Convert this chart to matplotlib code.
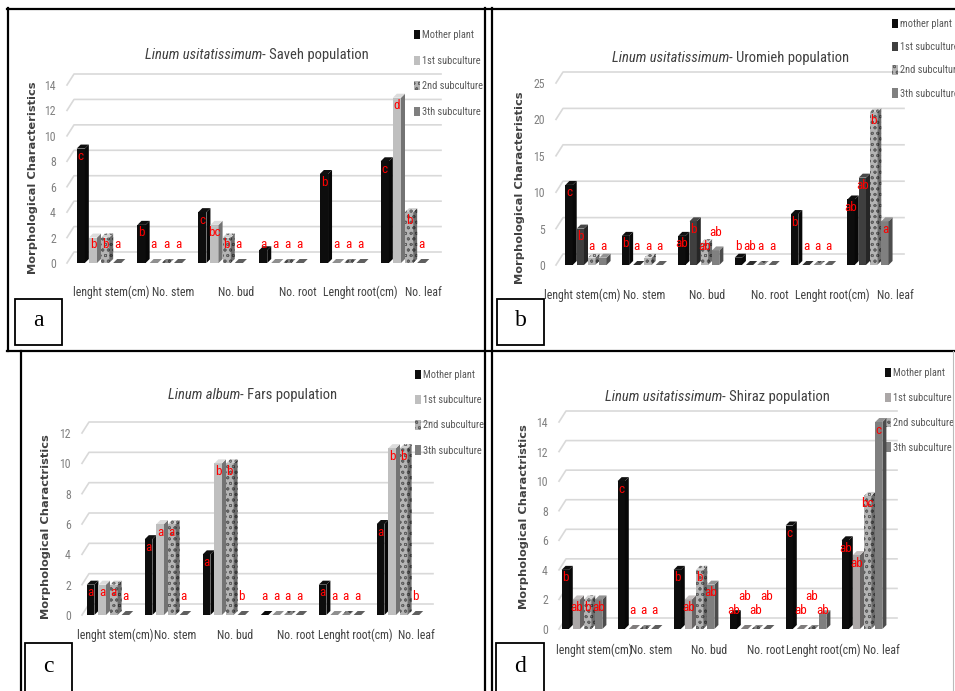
import matplotlib
matplotlib.use("Agg")
import matplotlib.pyplot as plt
from matplotlib import font_manager
from matplotlib.patches import Polygon, Patch, Rectangle
from matplotlib.lines import Line2D
import numpy as np

W, H = 955, 691

categories = ["lenght stem(cm)", "No. stem", "No. bud", "No. root", "Lenght root(cm)", "No. leaf"]
legend_names = ["Mother plant", "1st subculture", "2nd subculture", "3th subculture"]
legend_names_b = ["mother plant", "1st subculture", "2nd subculture", "3th subculture"]

# a - Saveh
saveh_mother = [9, 3, 4, 1, 7, 8]
saveh_sub1 = [2, 0, 3, 0, 0, 13]
saveh_sub2 = [2, 0, 2, 0, 0, 4]
saveh_sub3 = [0, 0, 0, 0, 0, 0]
saveh_letters = [["c", "b", "b", "a"], ["b", "a", "a", "a"], ["c", "bc", "b", "a"],
                 ["a", "a", "a", "a"], ["b", "a", "a", "a"], ["c", "d", "b", "a"]]

# b - Uromieh
uromieh_mother = [11, 4, 4, 1, 7, 9]
uromieh_sub1 = [5, 0, 6, 0, 0, 12]
uromieh_sub2 = [1, 1, 3, 0, 0, 21]
uromieh_sub3 = [1, 0, 2, 0, 0, 6]
uromieh_letters = [["c", "b", "a", "a"], ["b", "a", "a", "a"], ["ab", "b", "ab", "ab"],
                   ["b", "ab", "a", "a"], ["b", "a", "a", "a"], ["ab", "ab", "b", "a"]]

# c - Fars (Linum album)
fars_mother = [2, 5, 4, 0, 2, 6]
fars_sub1 = [2, 6, 10, 0, 0, 11]
fars_sub2 = [2, 6, 10, 0, 0, 11]
fars_sub3 = [0, 0, 0, 0, 0, 0]
fars_letters = [["a", "a", "a", "a"], ["a", "a", "a", "a"], ["a", "b", "b", "b"],
                ["a", "a", "a", "a"], ["a", "a", "a", "a"], ["a", "b", "b", "b"]]

# d - Shiraz
shiraz_mother = [4, 10, 4, 1, 7, 6]
shiraz_sub1 = [2, 0, 2, 0, 0, 5]
shiraz_sub2 = [2, 0, 4, 0, 0, 9]
shiraz_sub3 = [2, 0, 3, 0, 1, 14]
shiraz_letters = [["b", "ab", "b", "ab"], ["c", "a", "a", "a"], ["b", "ab", "b", "ab"],
                  ["ab", "ab", "ab", "ab"], ["c", "ab", "ab", "ab"], ["ab", "ab", "bc", "c"]]

names = {f.name for f in font_manager.fontManager.ttflist}


def pick(cands):
    for c in cands:
        if c in names:
            return c
    return "DejaVu Sans"


NARROW = pick(["Liberation Sans Narrow", "Roboto Condensed", "Open Sans Condensed", "Lato", "Roboto"])
SERIF = "Liberation Serif"

plt.rcParams["hatch.linewidth"] = 0.6

SPECKLE = "speckle"
colors_a = ["#0d0d0d", "#bfbfbf", SPECKLE, "#7f7f7f"]
colors_b = ["#0d0d0d", "#3f3f3f", SPECKLE, "#808080"]
colors_d = ["#0d0d0d", "#aba7a7", SPECKLE, "#7f7f7f"]


def fx(x):
    return x / W


def fy(y):
    return 1 - y / H


def shade(c, k):
    rgb = np.array(matplotlib.colors.to_rgb(c))
    return tuple(np.clip(rgb * k, 0, 1))


def face_kw(col, k=1.0):
    if col == SPECKLE:
        return dict(facecolor=shade("#b4b4b4", k), hatch="ooo", edgecolor=shade("#606060", k), linewidth=0)
    return dict(facecolor=shade(col, k), edgecolor="none", linewidth=0)


def draw_panel(fig, left, right, y0, ytop, ymax, step, first, spacing, series, colors, letters,
               legend_labels, legend_pos, legend_gap, title_it, title_rest, title_pos, ylabel, ylabel_pos,
               label_y, label_first, label_spacing):
    ax = fig.add_axes([fx(left), fy(y0), fx(right - left), (y0 - ytop) / H])
    xmin = (left - first) / spacing
    xmax = (right - first) / spacing
    ax.set_xlim(xmin, xmax)
    ax.set_ylim(0, ymax)
    for s in ax.spines.values():
        s.set_visible(False)

    ppu = (y0 - ytop) / ymax
    wall_dx, wall_dy = 7 / spacing, 11 / ppu
    dx, dy = 4 / spacing, 4 / ppu
    bw = 0.2
    wf = bw - dx

    ticks = np.arange(0, ymax + step, step)
    for t in ticks:
        ax.plot([xmin, xmin + wall_dx, xmax], [t, t + wall_dy, t + wall_dy], color="#d9d9d9",
                lw=1.2, clip_on=False, zorder=1)
    ax.set_yticks(ticks)
    ax.set_yticklabels([str(int(t)) for t in ticks], fontsize=8.5, color="#808080", family=NARROW)
    ax.tick_params(axis="y", length=0, pad=8)

    idx = np.arange(len(categories))
    # category labels sit a little wider apart than the bar groups (3D perspective)
    ax.set_xticks((label_first + idx * label_spacing - first) / spacing)
    ax.set_xticklabels(categories, fontsize=8.5, color="#404040", family=NARROW)
    ax.tick_params(axis="x", length=0, pad=(label_y - y0 - 6) * 0.72)

    prev = [(None, 0)] * len(categories)
    for j, (vals, col) in enumerate(zip(series, colors)):
        xs = idx - 0.4 + j * bw
        ax.bar(xs, vals, width=wf, align="edge", zorder=3 + j, clip_on=False, **face_kw(col))
        for i, (x, v) in enumerate(zip(xs, vals)):
            side = Polygon([(x + wf, 0), (x + wf + dx, dy), (x + wf + dx, v + dy), (x + wf, v)],
                           closed=True, zorder=3 + j, clip_on=False, **face_kw(col, 0.6))
            top = Polygon([(x, v), (x + wf, v), (x + wf + dx, v + dy), (x + dx, v + dy)],
                          closed=True, zorder=3 + j, clip_on=False, **face_kw(col, 1.15 if v > 0 else 0.75))
            ax.add_patch(side)
            ax.add_patch(top)
            lab = letters[i][j]
            ypx = max(v * ppu - 8, 19)
            plab, py = prev[i]
            # stagger two-letter labels that would run into their neighbour
            if plab is not None and len(plab) > 1 and len(lab) > 1 and abs(ypx - py) < 12:
                ypx = py + 13
            prev[i] = (lab, ypx)
            ax.text(x + wf / 2, ypx / ppu, lab, ha="center", va="center", color="#ff0000",
                    fontsize=9.5, family=NARROW, zorder=20, clip_on=False)

    handles = [Patch(**face_kw(c)) for c in colors]
    leg = ax.legend(handles, legend_labels, loc="upper left", frameon=False,
                    bbox_to_anchor=(fx(legend_pos[0]), fy(legend_pos[1])), bbox_transform=fig.transFigure,
                    borderpad=0, borderaxespad=0, handlelength=0.55, handleheight=1.0, handletextpad=0.2,
                    labelspacing=(legend_gap * 0.72 - 7.5) / 7.5, prop={"family": NARROW, "size": 7.5})
    for t in leg.get_texts():
        t.set_color("#595959")

    fig.text(fx(title_pos[0]), fy(title_pos[1]), title_it, ha="right", va="center", style="italic",
             fontsize=10.5, color="#404040", family=NARROW)
    fig.text(fx(title_pos[0]), fy(title_pos[1]), title_rest, ha="left", va="center",
             fontsize=10.5, color="#404040", family=NARROW)
    fig.text(fx(ylabel_pos[0]), fy(ylabel_pos[1]), ylabel, rotation=90, ha="center", va="center",
             fontsize=8.2, fontweight="bold", color="#404040", family="DejaVu Sans")
    return ax


fig = plt.figure(figsize=(W / 100, H / 100), dpi=100)
fig.patch.set_facecolor("white")

draw_panel(fig, 67, 441, 263, 85, 14, 2, 101, 60.8,
           [saveh_mother, saveh_sub1, saveh_sub2, saveh_sub3], colors_a, saveh_letters,
           legend_names, (414, 30), 25.7, "Linum usitatissimum", "- Saveh population", (262, 55),
           "Morphological Characteristics", (33, 178), 292, 111, 62.4)

draw_panel(fig, 556, 904, 265, 83, 25, 5, 588, 56.4,
           [uromieh_mother, uromieh_sub1, uromieh_sub2, uromieh_sub3], colors_b, uromieh_letters,
           legend_names_b, (892, 19), 23.3, "Linum usitatissimum", "- Uromieh population", (729, 58),
           "Morphological Characteristics", (520, 188), 295, 582, 62.6)

draw_panel(fig, 82, 433, 615, 433, 12, 2, 110, 58,
           [fars_mother, fars_sub1, fars_sub2, fars_sub3], colors_a, fars_letters,
           legend_names, (415, 370), 25.3, "Linum album", "- Fars population", (240, 395),
           "Morphological Charactristics", (46, 527), 635, 115, 60.2)

draw_panel(fig, 559, 897, 629, 422, 14, 2, 584, 56,
           [shiraz_mother, shiraz_sub1, shiraz_sub2, shiraz_sub3], colors_d, shiraz_letters,
           legend_names, (885, 368), 25, "Linum usitatissimum", "- Shiraz population", (722, 397),
           "Morphological Charactristics", (524, 517), 650, 594, 57.4)

# table borders
borders = [((7, 955), (8.5, 8.5)), ((7, 955), (350.5, 350.5)), ((7.5, 7.5), (8, 351)),
           ((484.5, 484.5), (8, 691)), ((491.5, 491.5), (8, 691)), ((20.5, 20.5), (351, 691))]
for xs_, ys_ in borders:
    fig.add_artist(Line2D([fx(v) for v in xs_], [fy(v) for v in ys_], color="black", lw=1.6,
                          transform=fig.transFigure))
fig.add_artist(Line2D([fx(953), fx(953)], [fy(351), fy(691)], color="#bbbbbb", lw=0.8,
                      transform=fig.transFigure))

# panel letter boxes
for lab, (bx, by, bx2, by2) in zip("abcd", [(15, 299, 62, 345), (497, 299, 544, 345),
                                         (25, 643, 72, 694), (496, 643, 544, 694)]):
    fig.add_artist(Rectangle((fx(bx), fy(by2)), fx(bx2 - bx), (by2 - by) / H, fill=False,
                             edgecolor="black", lw=1.3, transform=fig.transFigure))
    fig.text(fx((bx + bx2) / 2), fy(min(by2, 691) - (min(by2, 691) - by) / 2 - 1), lab, ha="center",
             va="center", fontsize=17, family=SERIF)

fig.savefig("out.png", dpi=100)
